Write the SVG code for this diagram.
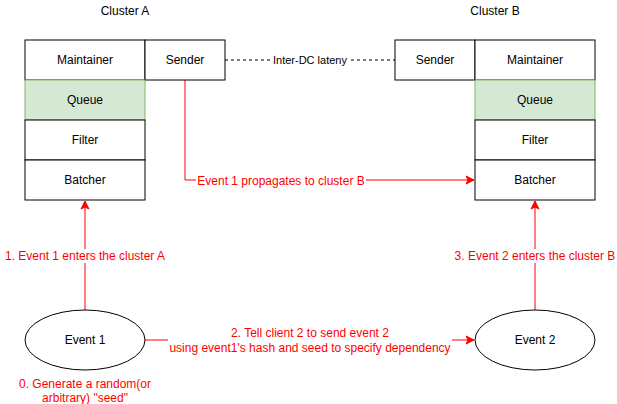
<svg xmlns="http://www.w3.org/2000/svg" width="617" height="404" viewBox="0 0 617 404">
<style>
text{font-family:"Liberation Sans",Arial,sans-serif;font-size:12px;text-anchor:middle;fill:#000}
.box{fill:#fff;stroke:#000;stroke-width:1}
.q{fill:#d5e8d4;stroke:#82b366;stroke-width:1}
.red{fill:#ff0000}
.e{fill:none;stroke:#ff0000;stroke-width:1}
.lbl{fill:#fff}
</style>
<defs>
<marker id="ar" markerWidth="10" markerHeight="10" refX="9" refY="5" orient="auto" markerUnits="userSpaceOnUse">
<path d="M1,1 L9,5 L1,9 L3,5 Z" fill="#ff0000" stroke="#ff0000"/>
</marker>
</defs>
<rect width="617" height="404" fill="#fff"/>
<text x="125" y="15">Cluster A</text>
<text x="495" y="15">Cluster B</text>
<g id="connectors">
<line x1="225" y1="60" x2="395" y2="60" stroke="#000" stroke-dasharray="3,3"/>
<rect class="lbl" x="270" y="53" width="80" height="14"/>
<text x="310" y="64" style="font-size:11px">Inter-DC lateny</text>
<path class="e" d="M185,80 V180 H474" marker-end="url(#ar)"/>
<rect class="lbl" x="196" y="173" width="170" height="14"/>
<text x="281" y="185" class="red" style="text-anchor:middle">Event 1 propagates to cluster B</text>
<path class="e" d="M85,310 V201" marker-end="url(#ar)"/>
<rect class="lbl" x="2" y="249" width="166" height="14"/>
<text x="85" y="260" class="red">1. Event 1 enters the cluster A</text>
<path class="e" d="M535,310 V201" marker-end="url(#ar)"/>
<rect class="lbl" x="452" y="249" width="166" height="14"/>
<text x="535" y="260" class="red">3. Event 2 enters the cluster B</text>
<path class="e" d="M145,340 H474" marker-end="url(#ar)"/>
<rect class="lbl" x="168" y="322" width="284" height="32"/>
<text x="310" y="337" class="red">2. Tell client 2 to send event 2</text>
<text x="310" y="352" class="red">using event1's hash and seed to specify dependency</text>
</g>
<g id="clusterA">
<g id="a-maintainer"><rect class="box" x="25" y="40" width="120" height="40"/><text x="85" y="64">Maintainer</text></g>
<g id="a-sender"><rect class="box" x="145" y="40" width="80" height="40"/><text x="185" y="64">Sender</text></g>
<g id="a-queue"><rect class="q" x="25" y="80" width="120" height="40"/><text x="85" y="104">Queue</text></g>
<g id="a-filter"><rect class="box" x="25" y="120" width="120" height="40"/><text x="85" y="144">Filter</text></g>
<g id="a-batcher"><rect class="box" x="25" y="160" width="120" height="40"/><text x="85" y="184">Batcher</text></g>
</g>
<g id="clusterB">
<g id="b-sender"><rect class="box" x="395" y="40" width="80" height="40"/><text x="435" y="64">Sender</text></g>
<g id="b-maintainer"><rect class="box" x="475" y="40" width="120" height="40"/><text x="535" y="64">Maintainer</text></g>
<g id="b-queue"><rect class="q" x="475" y="80" width="120" height="40"/><text x="535" y="104">Queue</text></g>
<g id="b-filter"><rect class="box" x="475" y="120" width="120" height="40"/><text x="535" y="144">Filter</text></g>
<g id="b-batcher"><rect class="box" x="475" y="160" width="120" height="40"/><text x="535" y="184">Batcher</text></g>
</g>
<g id="event1"><ellipse cx="85" cy="340" rx="60" ry="30" fill="#fff" stroke="#000"/><text x="85" y="344">Event 1</text></g>
<g id="event2"><ellipse cx="535" cy="340" rx="60" ry="30" fill="#fff" stroke="#000"/><text x="535" y="344">Event 2</text></g>
<g id="note0">
<text x="85" y="388" class="red">0. Generate a random(or</text>
<text x="85" y="402" class="red">arbitrary) "seed"</text>
</g>
</svg>
